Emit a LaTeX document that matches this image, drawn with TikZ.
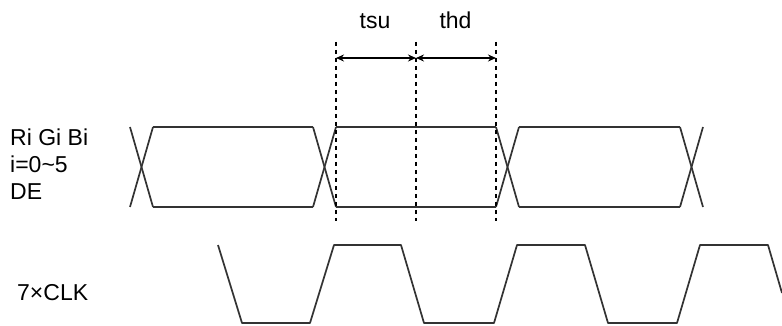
\documentclass[tikz,border=0pt]{standalone}
\usepackage{fontspec}
\setmainfont{Liberation Sans}
\usepackage{tikz}
\usetikzlibrary{arrows,arrows.meta,positioning}

\tikzset{
  signal/.style = {line width = 1.7pt, black!80, line join = round},
  guide/.style = {line width = 1.4pt, dash pattern = on 4pt off 4pt},
  label/.style = {inner sep = 0pt, font = \fontsize{23}{27}\selectfont}
}

\begin{document}
\begin{tikzpicture}[x = 1pt, y = -1pt, > = {Stealth[length = 8pt, width = 7pt]}]
    \useasboundingbox (0,0) rectangle (782,326);
    % labels
    \node at (10,146) [label, anchor = base west] (rgb) {Ri Gi Bi};
    \node at (10,173) [label, anchor = base west] (idx) {i=0\textasciitilde5};
    \node at (10,200) [label, anchor = base west] (de) {DE};
    \node at (17,300) [label, anchor = base west] (clk) {7×CLK};
    \node at (375,29) [label, anchor = base] (tsu) {tsu};
    \node at (455.5,29) [label, anchor = base] (thd) {thd};
    % data bus
    \foreach \s in {130,313,496,680} {
        \draw[signal] (\s,127) -- ++(23,80);
        \draw[signal] (\s,207) -- ++(23,-80);
    }
    \foreach \a/\b in {153/313,336/496,519/680} {
        \draw[signal] (\a,127) -- (\b,127);
        \draw[signal] (\a,207) -- (\b,207);
    }
    % clock
    \draw[signal] (218,245) -- (242,323) -- (310,323) -- (334,245) -- (401,245) -- (424,323)
        -- (494,323) -- (517,245) -- (585,245) -- (608,323) -- (677,323) -- (700,245)
        -- (768,245) -- (782,293);
    % timing marks
    \coordinate (su) at (336,42);
    \coordinate (ck) at (416,42);
    \coordinate (hd) at (496,42);
    \foreach \c in {su,ck,hd}
        \draw[guide] (\c) -- ++(0,179);
    \draw[<->, line width = 1.5pt] ([yshift = -16pt]su) -- ([yshift = -16pt]ck);
    \draw[<->, line width = 1.5pt] ([yshift = -16pt]ck) -- ([yshift = -16pt]hd);
\end{tikzpicture}
\end{document}
